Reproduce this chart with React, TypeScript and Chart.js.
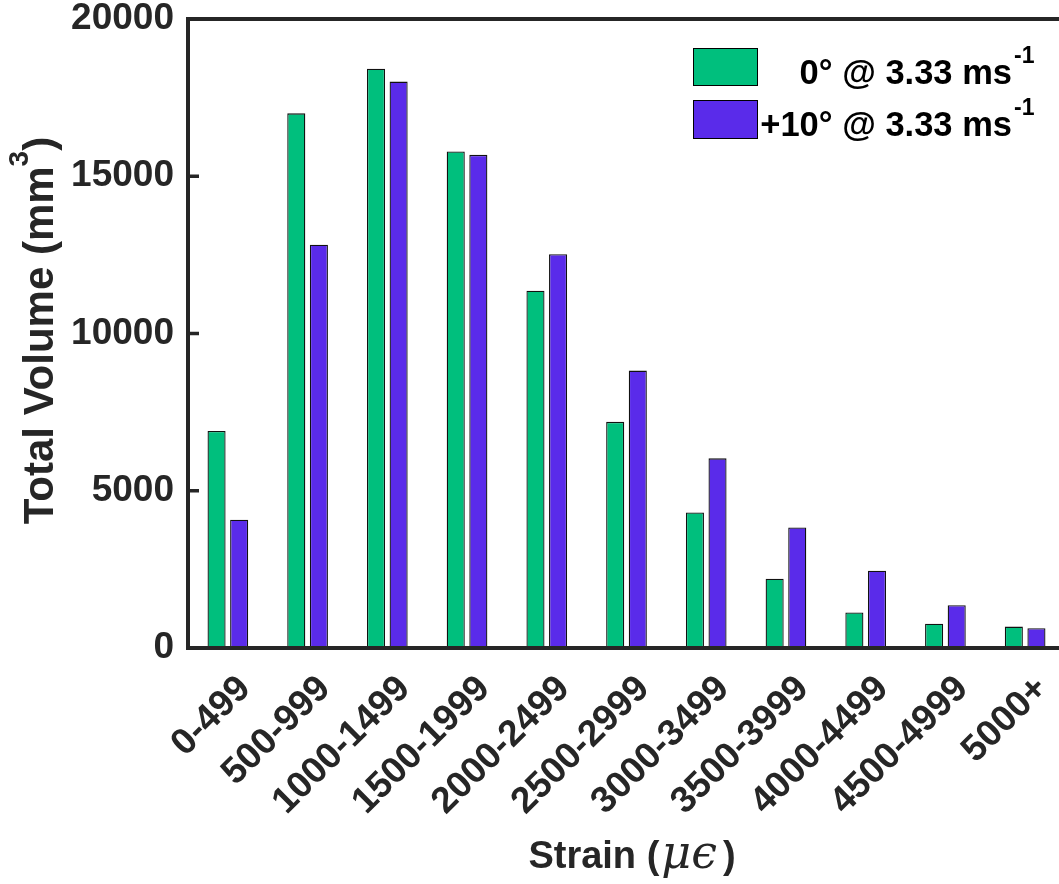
import React, { useEffect, useRef } from "react";
import { Chart, registerables } from "chart.js";
Chart.register(...registerables);

const categories = ["0-499", "500-999", "1000-1499", "1500-1999", "2000-2499", "2500-2999", "3000-3499", "3500-3999", "4000-4499", "4500-4999", "5000+"];
const series0deg = [6900, 17000, 18420, 15790, 11360, 7190, 4310, 2200, 1130, 770, 680];
const series10deg = [4080, 12820, 18010, 15680, 12520, 8820, 6030, 3830, 2460, 1360, 630];
const seriesNames = ["0° @ 3.33 ms", "+10° @ 3.33 ms"];
const seriesSup = "-1";
const yTicks = [0, 5000, 10000, 15000, 20000];
const yTitleMain = "Total Volume (mm";
const yTitleSup = "3";
const yTitleEnd = ")";
const xTitleMain = "Strain (";
const xTitleMath = "μϵ";
const xTitleEnd = ")";

const GREEN = "#00BF7D";
const PURPLE = "#5A2BEA";
const AXIS = "#262626";
const TEXT = "#262626";
const SANS = "'Liberation Sans', Arial, sans-serif";

const CW = 1075;
const CH = 884;

const decorPlugin = {
  id: "decor",
  afterDraw(chart: any) {
    const ctx = chart.ctx as CanvasRenderingContext2D;
    const { left, top, bottom } = chart.chartArea;
    const xs = chart.scales.x;
    const ys = chart.scales.y;
    ctx.save();
    // axis lines
    ctx.strokeStyle = AXIS;
    ctx.lineWidth = 4;
    ctx.beginPath();
    ctx.moveTo(left, top - 2);
    ctx.lineTo(left, bottom + 2);
    ctx.moveTo(left - 2, bottom);
    ctx.lineTo(chart.width, bottom);
    ctx.moveTo(left - 2, top);
    ctx.lineTo(chart.width, top);
    ctx.stroke();
    // inward y ticks
    ctx.lineWidth = 3.5;
    ctx.beginPath();
    for (const v of yTicks) {
      const y = ys.getPixelForValue(v);
      ctx.moveTo(left, y);
      ctx.lineTo(left + 11, y);
    }
    ctx.stroke();

    // x tick labels rotated
    ctx.fillStyle = TEXT;
    ctx.font = `bold 37px ${SANS}`;
    ctx.textAlign = "right";
    ctx.textBaseline = "middle";
    categories.forEach((c, i) => {
      const x = xs.getPixelForTick(i);
      ctx.save();
      ctx.translate(x + 17, bottom + 35);
      ctx.rotate(-Math.PI / 4);
      ctx.fillText(c, 0, 0);
      ctx.restore();
    });

    // x title
    ctx.textAlign = "left";
    ctx.textBaseline = "alphabetic";
    const fMain = `bold 38px ${SANS}`;
    const fMath = `italic 46px 'DejaVu Serif', serif`;
    ctx.font = fMain;
    const w1 = ctx.measureText(xTitleMain).width;
    const w3 = ctx.measureText(xTitleEnd).width;
    ctx.font = fMath;
    const w2 = ctx.measureText(xTitleMath).width + 6;
    const cx = 631;
    let xx = cx - (w1 + w2 + w3) / 2;
    const by = 868;
    ctx.font = fMain;
    ctx.fillText(xTitleMain, xx, by);
    xx += w1 + 2;
    ctx.font = fMath;
    ctx.fillText(xTitleMath, xx, by);
    xx += w2;
    ctx.font = fMain;
    ctx.fillText(xTitleEnd, xx, by);

    // y title
    ctx.save();
    const cy = (chart.chartArea.top + chart.chartArea.bottom) / 2;
    ctx.translate(53, cy - 3);
    ctx.rotate(-Math.PI / 2);
    const fy = `bold 42px ${SANS}`;
    const fys = `bold 28px ${SANS}`;
    ctx.font = fy;
    const a1 = ctx.measureText(yTitleMain).width;
    const a3 = ctx.measureText(yTitleEnd).width;
    ctx.font = fys;
    const a2 = ctx.measureText(yTitleSup).width;
    let tx = -(a1 + a2 + a3) / 2;
    ctx.font = fy;
    ctx.fillText(yTitleMain, tx, 0);
    tx += a1;
    ctx.font = fys;
    ctx.fillText(yTitleSup, tx, -25);
    tx += a2;
    ctx.font = fy;
    ctx.fillText(yTitleEnd, tx, 0);
    ctx.restore();

    // legend
    const rows = [
      { color: GREEN, name: seriesNames[0], box: [693, 48, 64, 37], base: 84 },
      { color: PURPLE, name: seriesNames[1], box: [693, 100, 64, 38], base: 136 },
    ];
    const textEnd = 1012;
    for (const r of rows) {
      ctx.fillStyle = r.color;
      ctx.fillRect(r.box[0], r.box[1], r.box[2], r.box[3]);
      ctx.strokeStyle = "#000";
      ctx.lineWidth = 1;
      ctx.strokeRect(r.box[0] + 0.5, r.box[1] + 0.5, r.box[2], r.box[3]);
      ctx.fillStyle = "#000";
      ctx.font = `bold 34.5px ${SANS}`;
      ctx.textAlign = "right";
      ctx.fillText(r.name, textEnd, r.base);
      ctx.textAlign = "left";
      ctx.font = `bold 23px ${SANS}`;
      ctx.fillText(seriesSup, textEnd + 2, r.base - 21);
    }
    ctx.restore();
  },
};

export default function App() {
  const ref = useRef<HTMLCanvasElement | null>(null);
  useEffect(() => {
    if (!ref.current) return;
    const chart = new Chart(ref.current, {
      type: "bar",
      data: {
        labels: categories,
        datasets: [
          {
            label: seriesNames[0],
            data: series0deg,
            backgroundColor: GREEN,
            borderColor: "#111",
            borderWidth: 1.3,
            categoryPercentage: 0.567,
            barPercentage: 0.8,
          },
          {
            label: seriesNames[1],
            data: series10deg,
            backgroundColor: PURPLE,
            borderColor: "#111",
            borderWidth: 1.3,
            categoryPercentage: 0.567,
            barPercentage: 0.8,
          },
        ],
      },
      options: {
        animation: false,
        responsive: false,
        devicePixelRatio: 1,
        layout: { padding: { top: 19, right: CW - 1065, left: 0, bottom: 0 } },
        plugins: { legend: { display: false }, tooltip: { enabled: false } },
        scales: {
          x: {
            ticks: { display: false },
            grid: { display: false, drawTicks: false },
            border: { display: false },
            afterFit: (s: any) => {
              s.height = CH - 648;
              s.paddingLeft = 0;
              s.paddingRight = 0;
            },
          },
          y: {
            min: 0,
            max: 20000,
            afterBuildTicks: (s: any) => {
              s.ticks = yTicks.map((v) => ({ value: v }));
            },
            ticks: {
              color: TEXT,
              font: { family: SANS, weight: "bold", size: 37, lineHeight: 1 },
              padding: 14,
              callback: (v: any) => String(v),
            },
            grid: { display: false, drawTicks: false },
            border: { display: false },
            afterFit: (s: any) => {
              s.width = 188;
              s.paddingTop = 0;
              s.paddingBottom = 0;
            },
          },
        },
      },
      plugins: [decorPlugin],
    } as any);
    return () => chart.destroy();
  }, []);
  return (
    <div style={{ position: "fixed", left: 0, top: 0, width: 1059, height: 884, overflow: "hidden", background: "#fff" }}>
      <canvas ref={ref} width={CW} height={CH} style={{ display: "block", width: CW, height: CH }} />
    </div>
  );
}
